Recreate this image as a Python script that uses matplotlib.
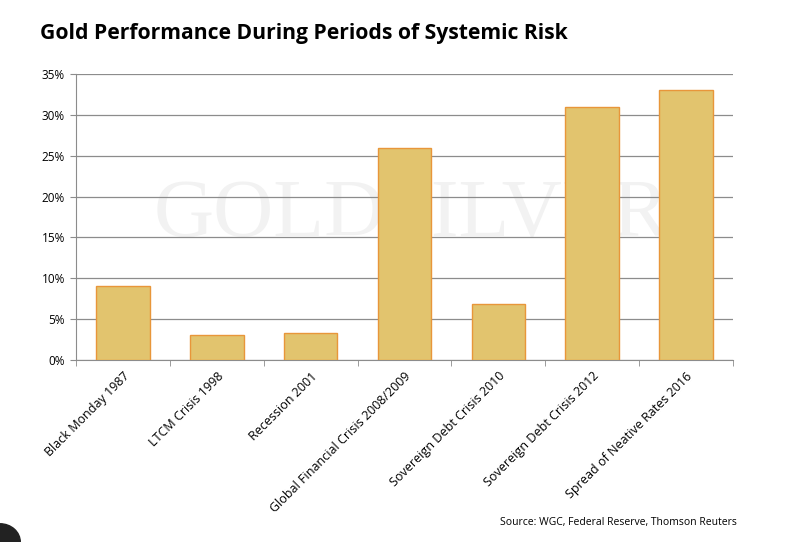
import matplotlib.pyplot as plt
from matplotlib.patches import Ellipse

# --------------------------------------
categories = ["Black Monday 1987", "LTCM Crisis 1998", "Recession 2001",
              "Global Financial Crisis 2008/2009", "Sovereign Debt Crisis 2010",
              "Sovereign Debt Crisis 2012", "Spread of Neative Rates 2016"]
values = [9.0, 3.0, 3.3, 26.0, 6.9, 31.0, 33.0]
yticks = [0, 5, 10, 15, 20, 25, 30, 35]
ytick_labels = ["0%", "5%", "10%", "15%", "20%", "25%", "30%", "35%"]
# --------------------------------------

plt.rcParams['font.family'] = ['Open Sans', 'DejaVu Sans']

fig = plt.figure(figsize=(8.11, 5.42), dpi=100)
ax = fig.add_axes([76/811, 1-360/542, (733-76)/811, (360-74)/542])

x = list(range(len(categories)))
ax.bar(x, values, width=0.57, color="#E2C46E", edgecolor="#E8963A", linewidth=1.0, zorder=3)

ax.set_xlim(-0.5, len(categories) - 0.5)
ax.set_ylim(0, 35)
ax.set_yticks(yticks)
ax.set_yticklabels(ytick_labels, fontsize=8.5)
ax.yaxis.grid(True, color="#8c8c8c", linewidth=0.9, zorder=0)

ax.set_xticks(x)
ax.set_xticklabels(categories, rotation=45, ha="right", rotation_mode="anchor", fontsize=9)
ax.tick_params(axis="x", length=0, pad=7)
ax.set_xticks([i + 0.5 for i in range(-1, len(categories))], minor=True)
ax.tick_params(axis="x", which="minor", length=4, color="#8c8c8c", direction="out")
ax.tick_params(axis="y", length=4, color="#8c8c8c", pad=4)

for s in ["top", "right"]:
    ax.spines[s].set_visible(False)
ax.spines["left"].set_color("#8c8c8c")
ax.spines["bottom"].set_color("#8c8c8c")

# watermark
ax.text(0.51, 0.5, "GOLDSILVER", transform=ax.transAxes, ha="center", va="center",
        fontsize=60, family="Liberation Serif", color="#f2f2f2", zorder=1)

fig.text(40/811, 1-33/542, "Gold Performance During Periods of Systemic Risk",
         fontsize=15.2, fontweight="bold", va="center", ha="left")
fig.text(500/811, 1-522/542, "Source: WGC, Federal Reserve, Thomson Reuters",
         fontsize=7.5, va="center", ha="left")

fig.patches.append(Ellipse((0, 0), 0.05, 0.05*811/542*0.9, transform=fig.transFigure,
                           color="#222222", figure=fig))

fig.savefig("out.png", dpi=100)
